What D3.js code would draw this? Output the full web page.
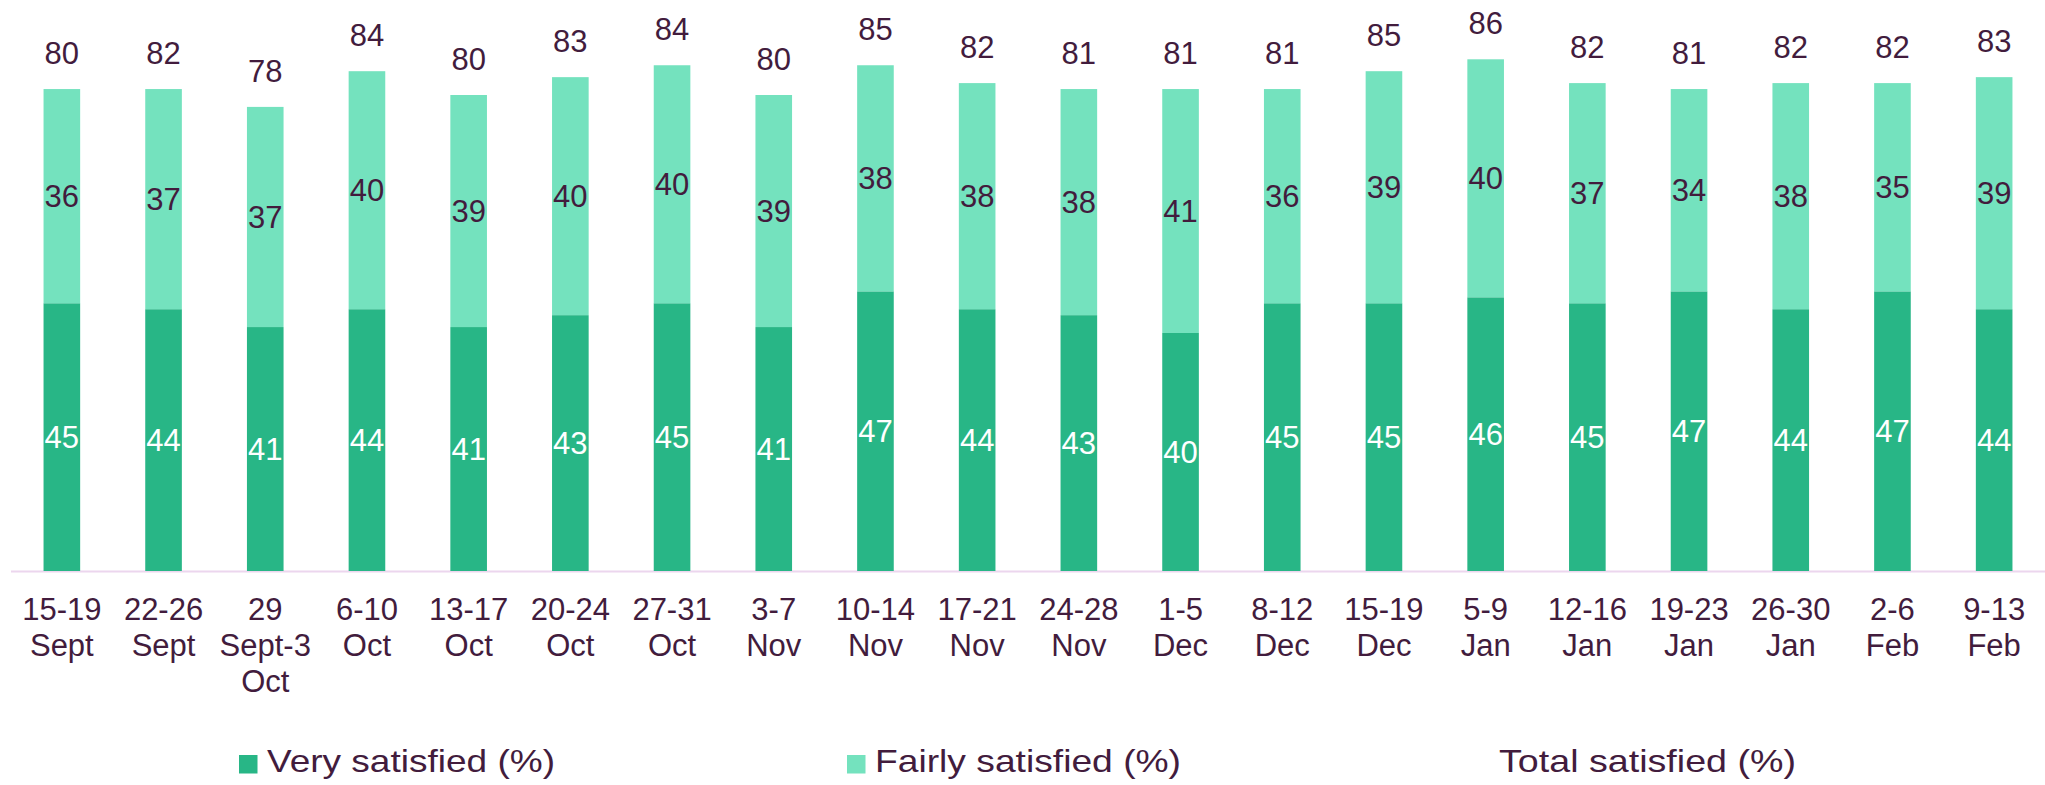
<!DOCTYPE html>
<html>
<head>
<meta charset="utf-8">
<script src="https://cdn.jsdelivr.net/npm/d3@7/dist/d3.min.js"></script>
<style>
html,body{margin:0;padding:0;background:#fff;}
svg{display:block;font-family:Arial,"Liberation Sans",Helvetica,sans-serif;}
</style>
</head>
<body>
<svg id="chart" width="2045" height="785"></svg>
<script>
const categories = ["15-19 Sept","22-26 Sept","29 Sept-3 Oct","6-10 Oct","13-17 Oct","20-24 Oct","27-31 Oct","3-7 Nov","10-14 Nov","17-21 Nov","24-28 Nov","1-5 Dec","8-12 Dec","15-19 Dec","5-9 Jan","12-16 Jan","19-23 Jan","26-30 Jan","2-6 Feb","9-13 Feb"];
const verySatisfied = [45,44,41,44,41,43,45,41,47,44,43,40,45,45,46,45,47,44,47,44];
const fairlySatisfied = [36,37,37,40,39,40,40,39,38,38,38,41,36,39,40,37,34,38,35,39];
const totalSatisfied = [80,82,78,84,80,83,84,80,85,82,81,81,81,85,86,82,81,82,82,83];
const seriesNames = ["Very satisfied (%)","Fairly satisfied (%)","Total satisfied (%)"];

const colVery = "#28b686", colFairly = "#74e2be", colText = "#421c3d";
const svg = d3.select("#chart");
const baseY = 571;
const x = d3.scaleBand().domain(categories).range([11, 2045]).paddingInner(0.64).paddingOuter(0.32);
const y = d3.scaleLinear().domain([0, 100]).range([baseY, baseY - 595]);

const data = categories.map((c, i) => ({c, v: verySatisfied[i], f: fairlySatisfied[i], t: totalSatisfied[i]}));

// axis line
svg.append("line").attr("x1", 11).attr("x2", 2045).attr("y1", baseY + 0.5).attr("y2", baseY + 0.5)
  .attr("stroke", "#ecd6ee").attr("stroke-width", 2);

const g = svg.append("g");
// very satisfied
g.selectAll("rect.very").data(data).join("rect").attr("class", "very")
  .attr("x", d => x(d.c)).attr("width", x.bandwidth())
  .attr("y", d => y(d.v)).attr("height", d => y(0) - y(d.v))
  .attr("fill", colVery);
// fairly satisfied
g.selectAll("rect.fairly").data(data).join("rect").attr("class", "fairly")
  .attr("x", d => x(d.c)).attr("width", x.bandwidth())
  .attr("y", d => y(d.v + d.f)).attr("height", d => y(d.v) - y(d.v + d.f))
  .attr("fill", colFairly);

const fs = 31;
// labels very
g.selectAll("text.lv").data(data).join("text").attr("class", "lv")
  .attr("x", d => x(d.c) + x.bandwidth() / 2)
  .attr("y", d => (y(0) + y(d.v)) / 2 + fs * 0.36)
  .attr("text-anchor", "middle").attr("font-size", fs).attr("fill", "#ffffff")
  .text(d => d.v);
// labels fairly
g.selectAll("text.lf").data(data).join("text").attr("class", "lf")
  .attr("x", d => x(d.c) + x.bandwidth() / 2)
  .attr("y", d => (y(d.v) + y(d.v + d.f)) / 2 + fs * 0.36)
  .attr("text-anchor", "middle").attr("font-size", fs).attr("fill", colText)
  .text(d => d.f);
// total labels
g.selectAll("text.lt").data(data).join("text").attr("class", "lt")
  .attr("x", d => x(d.c) + x.bandwidth() / 2)
  .attr("y", d => y(d.v + d.f) - 25)
  .attr("text-anchor", "middle").attr("font-size", fs).attr("fill", colText)
  .text(d => d.t);

// x-axis category labels
const xl = svg.append("g");
data.forEach(d => {
  const lines = d.c.split(" ");
  const t = xl.append("text").attr("text-anchor", "middle").attr("font-size", fs).attr("fill", colText)
    .attr("x", x(d.c) + x.bandwidth() / 2).attr("y", 620);
  lines.forEach((ln, k) => {
    t.append("tspan").attr("x", x(d.c) + x.bandwidth() / 2).attr("dy", k === 0 ? 0 : 36).text(ln);
  });
});

// legend
const legend = [
  {name: seriesNames[0], color: colVery, sx: 239, tx: 267, w: 288},
  {name: seriesNames[1], color: colFairly, sx: 847, tx: 875, w: 306},
  {name: seriesNames[2], color: null, sx: null, tx: 1499, w: 297}
];
const lg = svg.append("g");
legend.forEach(l => {
  if (l.color) lg.append("rect").attr("x", l.sx).attr("y", 755).attr("width", 18.5).attr("height", 18.5).attr("fill", l.color);
  lg.append("text").attr("x", l.tx).attr("y", 772).attr("font-size", 32).attr("fill", colText)
    .attr("textLength", l.w).attr("lengthAdjust", "spacingAndGlyphs").text(l.name);
});
</script>
</body>
</html>
